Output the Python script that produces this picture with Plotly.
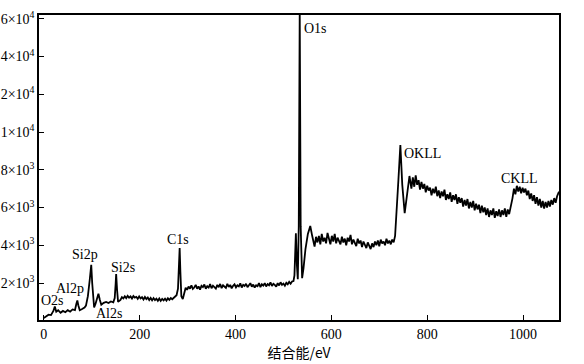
import numpy as np
import plotly.graph_objects as go

# Binding energy (eV) and intensity (counts), by region
energy_low = [0, 5, 10, 15, 20, 23, 26, 30, 35, 40, 45, 50, 55, 60, 65, 68, 70, 72, 75, 80,
              85, 88, 92, 96, 99, 101, 103, 105, 108, 111, 114, 117, 120, 125, 130, 135, 140, 145, 148, 150,
              151, 153, 155]
intensity_low = [150, 250, 320, 300, 520, 760, 480, 560, 420, 520, 450, 560, 480, 600, 560, 900, 1080, 820, 560, 620,
                 700, 800, 1300, 2200, 2960, 2000, 1100, 700, 900, 1200, 1430, 1100, 850, 950, 1000, 940, 1020, 980, 1200, 2000,
                 2470, 1600, 1000]

energy_c = [160, 163, 166, 169, 172, 175, 178, 181, 184, 187, 190, 193, 196, 199, 202, 205, 208, 211, 214, 217,
            220, 223, 226, 229, 232, 235, 238, 241, 244, 247, 250, 253, 256, 259, 262, 265, 268, 271, 274, 277,
            280, 282, 283.5, 285, 287, 290, 293]
intensity_c = [1100, 1250, 1180, 1300, 1200, 1320, 1220, 1290, 1180, 1310, 1230, 1270, 1160, 1290, 1180, 1250, 1130, 1260, 1150, 1230,
               1100, 1210, 1080, 1200, 1090, 1170, 1060, 1180, 1050, 1160, 1080, 1170, 1070, 1190, 1110, 1200, 1140, 1220, 1260, 1350,
               1700, 3000, 3850, 2600, 1300, 1150, 1500]

energy_mid = [296, 299, 302, 305, 308, 311, 314, 317, 320, 323, 326, 329, 332, 335, 338, 341, 344, 347, 350, 353,
              356, 359, 362, 365, 368, 371, 374, 377, 380, 383, 386, 389, 392, 395, 398, 401, 404, 407, 410, 413,
              416, 419, 422, 425, 428, 431, 434, 437, 440, 443, 446, 449, 452, 455, 458, 461, 464, 467, 470, 473,
              476, 479, 482, 485, 488, 491, 494, 497, 500, 503, 506, 509, 512, 515, 518]
intensity_mid = [1750, 1640, 1810, 1700, 1880, 1690, 1760, 1900, 1700, 1820, 1650, 1850, 1780, 1920, 1700, 1830, 1760, 1940, 1720, 1860,
                 1800, 1700, 1900, 1780, 1950, 1730, 1880, 1820, 1740, 1960, 1790, 1900, 1720, 1850, 1930, 1770, 1880, 1820, 1980, 1760,
                 1900, 1840, 1960, 1780, 1870, 1990, 1800, 1920, 1760, 1880, 1830, 2000, 1780, 1930, 1860, 1990, 1820, 1940, 1880, 2030,
                 1840, 1960, 1900, 1800, 1990, 1870, 2040, 1900, 1970, 1860, 2010, 1930, 2060, 1960, 2080]

energy_o1s = [521, 523, 526, 528, 530, 532, 534, 536, 538, 539, 542, 546, 551, 556, 560]
intensity_o1s = [2100, 2400, 4640, 3000, 2200, 5000, 65000, 5000, 2600, 2260, 2800, 3800, 4600, 5020, 4500]

energy_plateau = [565, 568, 571, 574, 577, 580, 583, 586, 589, 592, 595, 598, 601, 604, 607, 610, 613, 616, 619, 622,
                  625, 628, 631, 634, 637, 640, 643, 646, 649, 652, 655, 658, 661, 664, 667, 670, 673, 676, 679, 682,
                  685, 688, 691, 694, 697, 700, 703, 706, 709, 712, 715, 718, 721, 724, 727, 730]
intensity_plateau = [3930, 4450, 4150, 4500, 4050, 4600, 4200, 4400, 4100, 4650, 4250, 4050, 4500, 4200, 4600, 4100, 4400, 4250, 4050, 4450,
                     4150, 4350, 4000, 4400, 4200, 4550, 4050, 4300, 4150, 3950, 4350, 4100, 4250, 3900, 4200, 4050, 3850, 4150, 3950, 3800,
                     4100, 3900, 4200, 4000, 4250, 3950, 4300, 4100, 4200, 4000, 4350, 4100, 4250, 4050, 4300, 4150]

energy_okll = [733, 737, 740, 744, 748, 753, 757, 763]
intensity_okll = [4500, 6000, 7500, 9310, 7200, 5700, 6500, 7670]

energy_high = [767, 770, 773, 776, 779, 782, 785, 788, 791, 794, 797, 800, 803, 806, 809, 812, 815, 818, 821, 824,
               827, 830, 833, 836, 839, 842, 845, 848, 851, 854, 857, 860, 863, 866, 869, 872, 875, 878, 881, 884,
               887, 890, 893, 896, 899, 902, 905, 908, 911, 914, 917, 920, 923, 926, 929, 932, 935, 938, 941, 944,
               947, 950, 953, 956, 959, 962, 965, 968, 971, 974]
intensity_high = [7000, 7600, 7100, 7700, 7200, 7450, 6950, 7350, 7000, 7250, 6800, 7150, 6900, 7050, 6650, 7000, 6750, 7100, 6600, 6900,
                  6500, 6850, 6600, 6950, 6400, 6700, 6450, 6800, 6300, 6650, 6400, 6700, 6200, 6550, 6250, 6500, 6050, 6400, 6100, 6450,
                  5950, 6300, 6000, 6350, 5850, 6200, 5900, 6150, 5700, 6100, 5750, 6000, 5600, 5950, 5500, 5850, 5600, 5950, 5450, 5800,
                  5550, 5900, 5500, 5850, 5600, 5950, 5500, 5900, 5650, 5950]

energy_ckll = [978, 981, 984, 987, 990, 993, 996, 999, 1002, 1005, 1008, 1011, 1014, 1017, 1020, 1023, 1026, 1029, 1032, 1035,
               1038, 1041, 1044, 1047, 1050, 1053, 1056, 1059, 1062, 1065, 1068, 1071, 1075]
intensity_ckll = [6500, 7000, 6700, 7150, 6850, 7100, 6750, 7050, 6800, 7000, 6650, 6900, 6450, 6750, 6350, 6650, 6200, 6550, 6100, 6450,
                  6000, 6350, 5950, 6300, 6000, 6350, 6050, 6400, 6150, 6500, 6250, 6600, 6840]

# Broken (non-uniform) intensity axis: ticks equally spaced
y_tick_values = [2e3, 4e3, 6e3, 8e3, 1e4, 2e4, 4e4, 6e4]
y_tick_text = ["2×10<sup>3</sup>", "4×10<sup>3</sup>", "6×10<sup>3</sup>", "8×10<sup>3</sup>",
               "1×10<sup>4</sup>", "2×10<sup>4</sup>", "4×10<sup>4</sup>", "6×10<sup>4</sup>"]
x_tick_values = [0, 200, 400, 600, 800, 1000]

peak_labels = ["O1s", "OKLL", "CKLL", "C1s", "Si2s", "Si2p", "Al2p", "O2s", "Al2s"]
peak_label_energy = [567, 790, 993, 279, 165, 87, 55, 19, 137]
peak_label_intensity = [55000, 8840, 7520, 4320, 2820, 3500, 1700, 1080, 360]

energy = (energy_low + energy_c + energy_mid + energy_o1s + energy_plateau
          + energy_okll + energy_high + energy_ckll)
intensity = (intensity_low + intensity_c + intensity_mid + intensity_o1s + intensity_plateau
             + intensity_okll + intensity_high + intensity_ckll)

scale_in = [0] + y_tick_values + [1e5]
scale_out = list(range(len(y_tick_values) + 1)) + [len(y_tick_values) + 2]


def to_axis(v):
    return np.interp(np.asarray(v, dtype=float), scale_in, scale_out)


fig = go.Figure()
fig.add_trace(go.Scatter(x=energy, y=to_axis(intensity), mode="lines",
                         line=dict(color="black", width=1.8), showlegend=False))

for name, ex, iy in zip(peak_labels, peak_label_energy, peak_label_intensity):
    fig.add_annotation(x=ex, y=float(to_axis(iy)), text=name, showarrow=False,
                       font=dict(family="Liberation Serif", size=14, color="black"))

axis_font = dict(family="Liberation Serif", size=14, color="black")
fig.update_xaxes(range=[-10, 1075], tickvals=x_tick_values, ticks="inside", ticklen=5,
                 tickwidth=1, tickcolor="black", showline=True, linecolor="black", linewidth=1.5,
                 mirror=True, showgrid=False, zeroline=False, tickfont=axis_font, automargin=False,
                 title=dict(text="结合能/eV", font=dict(family="Noto Sans CJK SC", size=14, color="black"),
                            standoff=8))
fig.update_yaxes(range=[0.02, 8.1], tickvals=list(to_axis(y_tick_values)), ticktext=y_tick_text,
                 ticks="inside", ticklen=5, tickwidth=1, tickcolor="black", showline=True,
                 linecolor="black", linewidth=1.5, mirror=True, showgrid=False, zeroline=False,
                 tickfont=axis_font, automargin=False)
fig.update_layout(width=584, height=364, margin=dict(l=39, r=25, t=15, b=44),
                  paper_bgcolor="white", plot_bgcolor="white")
fig.write_html("out.html")
